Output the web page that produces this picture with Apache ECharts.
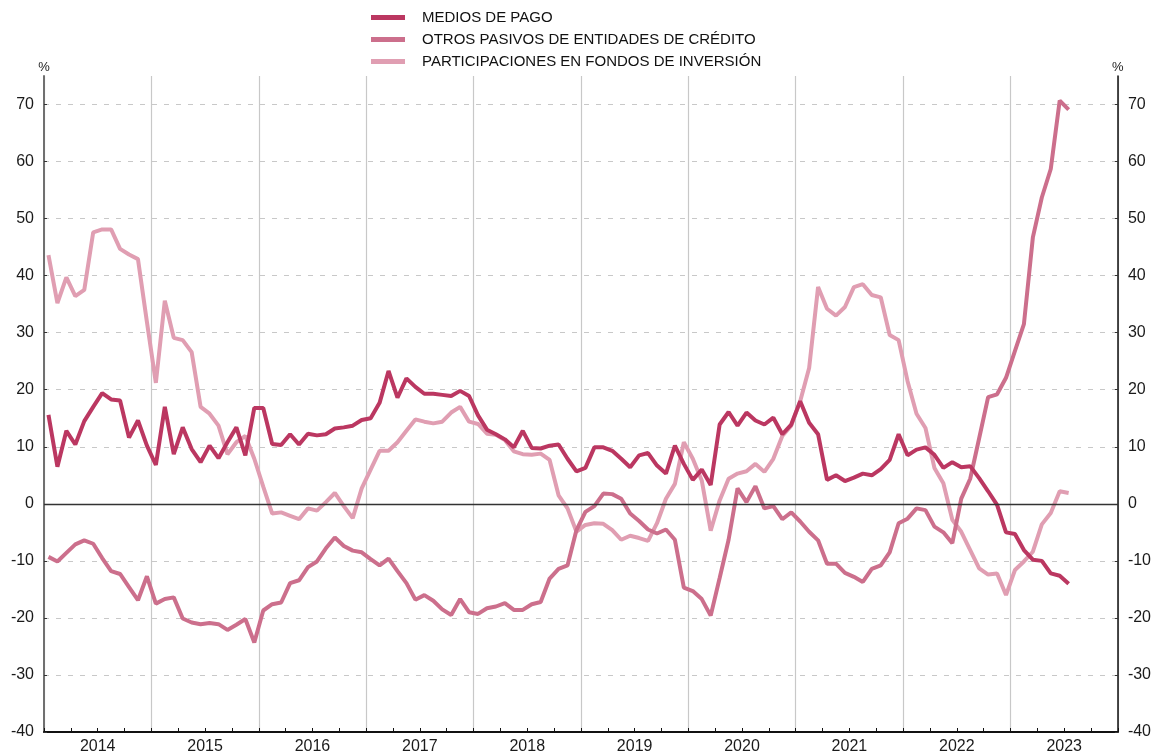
<!DOCTYPE html>
<html>
<head>
<meta charset="utf-8">
<script src="https://cdn.jsdelivr.net/npm/echarts@6/dist/echarts.min.js"></script>
<style>
  html, body { margin: 0; padding: 0; background: #fff; }
  #main { width: 1154px; height: 755px; }
</style>
</head>
<body>
<div id="main"></div>
<script>
(function() {
  const years = ['2014', '2015', '2016', '2017', '2018', '2019', '2020', '2021', '2022', '2023'];

  // one category per month, Jan 2014 .. Dec 2023
  const months = [];
  years.forEach(function (y) {
    for (let m = 1; m <= 12; m++) {
      months.push(y + '-' + (m < 10 ? '0' + m : m));
    }
  });

  const seriesNames = [
    'MEDIOS DE PAGO',
    'OTROS PASIVOS DE ENTIDADES DE CRÉDITO',
    'PARTICIPACIONES EN FONDOS DE INVERSIÓN'
  ];

  // monthly rates, Jan 2014 .. Jul 2023
  const mediosPago = [
    15.6, 6.5, 12.8, 10.4, 14.5, 17.0, 19.4, 18.3, 18.1, 11.6, 14.6, 10.2,
    6.8, 17.0, 8.7, 13.4, 9.6, 7.3, 10.2, 8.0, 10.8, 13.4, 8.5, 16.8,
    16.8, 10.5, 10.3, 12.2, 10.4, 12.3, 12.0, 12.2, 13.2, 13.4, 13.7, 14.7,
    15.0, 17.7, 23.3, 18.6, 22.0, 20.5, 19.3, 19.3, 19.1, 18.9, 19.8, 18.9,
    15.5, 13.0, 12.2, 11.3, 9.9, 12.8, 9.8, 9.7, 10.2, 10.4, 7.9, 5.7,
    6.3, 9.9, 9.9, 9.3, 7.9, 6.4, 8.5, 8.9, 6.7, 5.3, 10.2, 7.0,
    4.2, 6.0, 3.3, 13.9, 16.1, 13.7, 16.0, 14.6, 13.9, 15.1, 12.2, 13.9,
    18.0, 14.2, 12.2, 4.2, 5.0, 4.0, 4.6, 5.3, 5.0, 6.1, 7.7, 12.2,
    8.5, 9.5, 9.9, 8.6, 6.3, 7.3, 6.4, 6.6, 4.5, 2.2, -0.2, -5.0,
    -5.3, -8.1, -9.8, -10.0, -12.2, -12.6, -14.0
  ];

  const otrosPasivos = [
    -9.3, -10.1, -8.6, -7.1, -6.4, -7.0, -9.5, -11.8, -12.3, -14.6, -16.9, -12.7,
    -17.5, -16.7, -16.4, -20.1, -20.8, -21.1, -20.9, -21.1, -22.1, -21.2, -20.2, -24.3,
    -18.7, -17.6, -17.3, -13.9, -13.4, -11.1, -10.1, -7.8, -5.9, -7.4, -8.2, -8.5,
    -9.7, -10.8, -9.6, -11.8, -13.9, -16.8, -16.0, -17.0, -18.5, -19.5, -16.7, -19.0,
    -19.3, -18.3, -18.0, -17.4, -18.6, -18.6, -17.6, -17.2, -13.1, -11.4, -10.8, -4.6,
    -1.4, -0.4, 1.8, 1.7, 0.9, -1.7, -3.0, -4.5, -5.2, -4.5, -6.3, -14.7,
    -15.3, -16.7, -19.6, -13.0, -6.3, 2.7, 0.3, 3.1, -0.8, -0.4, -2.7, -1.5,
    -3.1, -4.9, -6.4, -10.5, -10.5, -12.1, -12.8, -13.7, -11.4, -10.8, -8.5, -3.4,
    -2.6, -0.8, -1.1, -4.0, -5.0, -6.9, 0.9, 4.4, 11.5, 18.7, 19.2, 22.1,
    26.8, 31.5, 46.7, 53.7, 58.7, 70.7, 69.1
  ];

  const fondosInversion = [
    43.6, 35.2, 39.7, 36.4, 37.5, 47.6, 48.1, 48.1, 44.7, 43.7, 42.9, 31.9,
    21.2, 35.6, 29.1, 28.7, 26.6, 17.0, 15.8, 13.7, 8.7, 10.8, 11.9, 7.9,
    3.0, -1.7, -1.5, -2.1, -2.7, -0.8, -1.2, 0.3, 1.9, -0.4, -2.5, 2.7,
    6.0, 9.3, 9.3, 10.8, 12.8, 14.8, 14.4, 14.1, 14.4, 16.0, 17.0, 14.4,
    14.0, 12.3, 12.1, 11.2, 9.2, 8.7, 8.6, 8.8, 7.7, 1.5, -0.8, -4.9,
    -3.7, -3.4, -3.5, -4.6, -6.3, -5.6, -6.0, -6.5, -3.4, 0.9, 3.5, 10.8,
    7.9, 4.1, -4.7, 0.6, 4.4, 5.3, 5.7, 7.0, 5.6, 7.9, 11.9, 13.7,
    18.0, 23.8, 38.0, 34.2, 33.0, 34.5, 38.0, 38.5, 36.6, 36.2, 29.6, 28.7,
    21.5, 15.8, 13.3, 6.3, 3.6, -2.8, -4.9, -8.1, -11.3, -12.4, -12.2, -16.0,
    -11.6, -10.1, -8.4, -3.6, -1.6, 2.2, 1.9
  ];

  const colors = ['#bb3761', '#cc6f8c', '#e09eb2'];
  const font = 'Liberation Sans, Arial, sans-serif';

  const myChart = echarts.init(document.getElementById('main'));

  function valueAxis(pos) {
    return {
      type: 'value',
      position: pos,
      min: -40,
      max: 75,
      interval: 10,
      name: '%',
      nameLocation: 'end',
      nameGap: 2,
      nameTextStyle: { color: '#222', fontSize: 13, fontFamily: font, align: 'center' },
      axisLine: {
        show: true,
        onZero: false,
        lineStyle: { color: pos === 'left' ? '#707070' : '#111', width: pos === 'left' ? 2 : 1.5 }
      },
      axisTick: { show: true, inside: true, length: 3, lineStyle: { color: '#333' } },
      axisLabel: {
        color: '#1a1a1a',
        fontSize: 16,
        fontFamily: font,
        margin: 10,
        showMaxLabel: false
      },
      splitLine: pos === 'left' ? {
        show: true,
        showMaxLine: false,
        showMinLine: false,
        lineStyle: { color: '#c8c8c8', type: [5, 7], width: 1 }
      } : { show: false }
    };
  }

  function lineSeries(i, values, z) {
    return {
      name: seriesNames[i],
      type: 'line',
      data: values,
      symbol: 'none',
      z: z,
      itemStyle: { color: colors[i] },
      lineStyle: { width: 4, color: colors[i] }
    };
  }

  const zeroSeries = lineSeries(2, fondosInversion, 2);
  zeroSeries.markLine = {
    silent: true,
    symbol: ['none', 'none'],
    label: { show: false },
    lineStyle: { color: '#333', width: 1.3, type: 'solid' },
    data: [{ yAxis: 0 }]
  };

  const option = {
    animation: false,
    backgroundColor: '#fff',
    color: colors,
    legend: {
      orient: 'vertical',
      left: 366,
      top: 5,
      itemWidth: 34,
      itemHeight: 5,
      itemGap: 7,
      icon: 'rect',
      data: seriesNames,
      textStyle: { color: '#111', fontSize: 15, fontFamily: font, lineHeight: 15, padding: [0, 0, 0, 12] }
    },
    grid: { left: 44, right: 35, top: 76, bottom: 14, containLabel: false },
    xAxis: [{
      type: 'category',
      data: months,
      position: 'bottom',
      boundaryGap: true,
      axisLine: { show: true, onZero: false, lineStyle: { color: '#111', width: 2 } },
      axisTick: {
        show: true,
        inside: true,
        length: 4,
        interval: function (index) { return index % 3 === 0; },
        lineStyle: { color: '#111' }
      },
      axisLabel: { show: false },
      splitLine: { show: false }
    }, {
      type: 'category',
      data: years,
      position: 'bottom',
      boundaryGap: true,
      axisLine: { show: false },
      axisTick: { show: false },
      axisLabel: { color: '#1a1a1a', fontSize: 16, fontFamily: font, margin: 7, interval: 0 },
      splitLine: { show: true, interval: 0, lineStyle: { color: '#c8c8c8', width: 1.2 } }
    }],
    yAxis: [valueAxis('left'), valueAxis('right')],
    series: [
      lineSeries(0, mediosPago, 4),
      lineSeries(1, otrosPasivos, 3),
      zeroSeries
    ]
  };

  myChart.setOption(option);
})();
</script>
</body>
</html>
